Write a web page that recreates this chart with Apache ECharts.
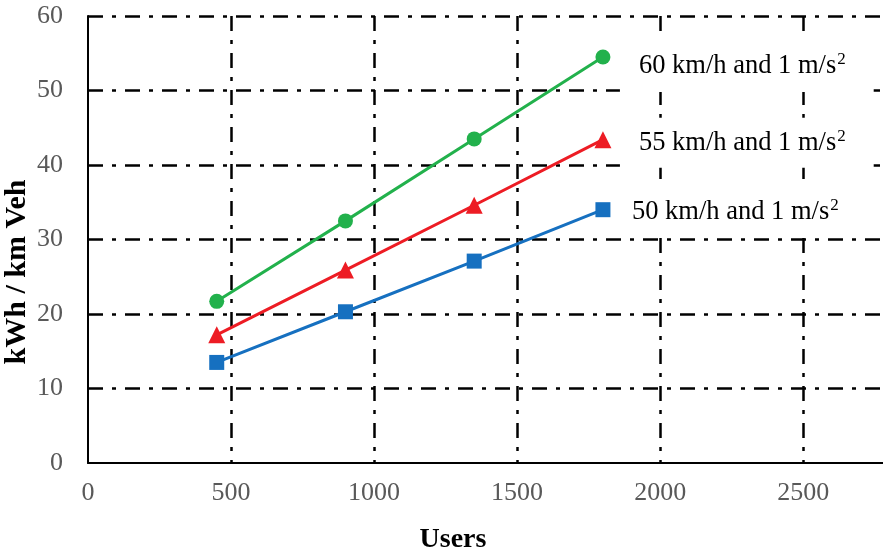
<!DOCTYPE html>
<html>
<head>
<meta charset="utf-8">
<script src="https://cdn.jsdelivr.net/npm/echarts@6/dist/echarts.min.js"></script>
<style>
  html, body { margin: 0; padding: 0; background: #fff; }
  #chart { width: 883px; height: 554px; }
</style>
</head>
<body>
<div id="chart"></div>
<script>
// Energy demand per vehicle-km against number of users
const users = [450, 900, 1350, 1800];
const speed60 = [21.7, 32.5, 43.5, 54.5];
const speed55 = [17.2, 25.9, 34.6, 43.4];
const speed50 = [13.5, 20.3, 27.1, 34.0];
const seriesNames = ['60 km/h and 1 m/s', '55 km/h and 1 m/s', '50 km/h and 1 m/s'];
const xTicks = [0, 500, 1000, 1500, 2000, 2500];
const yTicks = [0, 10, 20, 30, 40, 50, 60];
const xTitle = 'Users';
const yTitle = 'kWh / km Veh';

const FONT = '"Liberation Serif", "Times New Roman", serif';
const dashDot = [15, 9, 4, 9];

function pairs(ys) {
  return users.map((u, i) => [u, ys[i]]);
}

function makeSeries(name, ys, color, symbol, size, offset, pad) {
  return {
    name: name,
    type: 'line',
    data: pairs(ys),
    symbol: symbol,
    symbolSize: size,
    showAllSymbol: true,
    lineStyle: { color: color, width: 3 },
    itemStyle: { color: color },
    z: 5,
    endLabel: {
      show: true,
      distance: 0,
      offset: offset,
      backgroundColor: '#fff',
      padding: pad,
      formatter: () => '{t|' + name + '}{s|2}',
      rich: {
        t: { fontFamily: FONT, fontSize: 26.5, color: '#000', lineHeight: 30 },
        s: { fontFamily: FONT, fontSize: 17, color: '#000', padding: [0, 0, 13, 1], lineHeight: 30 }
      }
    }
  };
}

const chart = echarts.init(document.getElementById('chart'), null, { renderer: 'canvas' });
chart.setOption({
  animation: false,
  backgroundColor: '#fff',
  grid: { left: 88, top: 16, width: 801, height: 447, containLabel: false, outerBoundsMode: 'none' },
  xAxis: {
    type: 'value',
    min: 0,
    max: 2800,
    interval: 500,
    axisLine: { show: true, onZero: false, lineStyle: { color: '#000', width: 2 } },
    axisTick: { show: false },
    axisLabel: {
      fontFamily: FONT, fontSize: 26, color: '#595959', margin: 17,
      showMaxLabel: false,
      formatter: v => (xTicks.indexOf(v) >= 0 ? String(v) : '')
    },
    splitLine: {
      show: true,
      showMinLine: false,
      showMaxLine: false,
      lineStyle: { color: '#000', width: 2.5, type: dashDot }
    }
  },
  yAxis: {
    type: 'value',
    min: 0,
    max: 60,
    interval: 10,
    axisLine: { show: true, lineStyle: { color: '#000', width: 2 } },
    axisTick: { show: false },
    axisLabel: {
      fontFamily: FONT, fontSize: 26, color: '#595959', margin: 25,
      formatter: v => (yTicks.indexOf(v) >= 0 ? String(v) : '')
    },
    splitLine: {
      show: true,
      showMinLine: false,
      lineStyle: { color: '#000', width: 2.5, type: dashDot }
    }
  },
  graphic: [
    {
      type: 'text',
      x: 453,
      y: 540,
      style: {
        text: xTitle, fontFamily: FONT, fontSize: 28, fontWeight: 'bold', fill: '#000',
        align: 'center', verticalAlign: 'middle'
      }
    },
    {
      type: 'text',
      x: 17,
      y: 272,
      rotation: Math.PI / 2,
      style: {
        text: yTitle, fontFamily: FONT, fontSize: 30, fontWeight: 'bold', fill: '#000',
        align: 'center', verticalAlign: 'middle'
      }
    }
  ],
  series: [
    makeSeries(seriesNames[0], speed60, '#22B14C', 'circle', 15, [17, 9], [11, 28, 11, 19]),
    makeSeries(seriesNames[1], speed55, '#ED1C24', 'triangle', 17, [17, 3], [10, 28, 10, 19]),
    makeSeries(seriesNames[2], speed50, '#1670C0', 'rect', 15, [9, 2], [10, 36, 10, 20])
  ]
});
</script>
</body>
</html>
